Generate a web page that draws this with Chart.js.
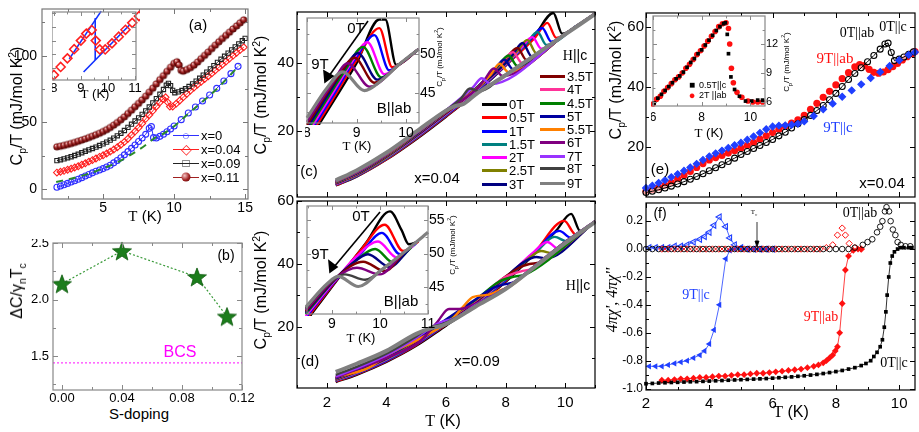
<!DOCTYPE html>
<html>
<head>
<meta charset="utf-8">
<title>Specific heat and ac susceptibility</title>
<script src="https://cdn.jsdelivr.net/npm/chart.js@4.4.1/dist/chart.umd.min.js"></script>
<style>
  body { margin:0; width:919px; height:432px; overflow:hidden; position:relative; background:#fff;
         font-family:"Liberation Sans", Arial, sans-serif; color:#000; }
  canvas { position:absolute; }
  .t { position:absolute; transform:translate(-50%,-50%); white-space:nowrap; line-height:1; z-index:5; }
  .l { position:absolute; transform:translate(0,-50%); white-space:nowrap; line-height:1; z-index:5; }
  .r { transform:translate(-50%,-50%) rotate(-90deg); }
  .sf { font-family:"Liberation Serif", "Times New Roman", serif; }
  .key { position:absolute; height:3px; z-index:5; }
  sub, sup { font-size:65%; line-height:0; }
  svg { position:absolute; left:0; top:0; z-index:6; }
</style>
</head>
<body>
<!-- (a) -->
<div class="t r" style="left:17px;top:106px;font-size:16px">C<sub>p</sub>/T (mJ/mol K<sup>2</sup>)</div>
<div class="t" style="left:145px;top:216px;font-size:15px"><span class="sf">T</span> (K)</div>
<div class="t" style="left:198px;top:24px;font-size:15px">(a)</div>
<div class="t" style="left:95px;top:93px;font-size:13px"><span class="sf">T</span> (K)</div>
<div class="key" style="left:173px;top:135px;width:26px;height:1px;background:#3030ff"></div>
<div class="t" style="left:186px;top:135px;font-size:13px;color:#3030ff">○</div>
<div class="l" style="left:201px;top:135px;font-size:13px">x=0</div>
<div class="key" style="left:173px;top:149px;width:26px;height:1px;background:#ff2020"></div>
<div class="t" style="left:186px;top:149px;font-size:14px;color:#ff2020">◇</div>
<div class="l" style="left:201px;top:149px;font-size:13px">x=0.04</div>
<div class="key" style="left:173px;top:163px;width:26px;height:1px;background:#222"></div>
<div class="t" style="left:186px;top:163px;font-size:12px;color:#222">□</div>
<div class="l" style="left:201px;top:163px;font-size:13px">x=0.09</div>
<div class="key" style="left:173px;top:177px;width:26px;height:1px;background:#a02020"></div>
<div class="t" style="left:186px;top:177px;width:9px;height:9px;border-radius:50%;background:radial-gradient(circle at 35% 35%, #f4c4c4, #a02020 55%, #4a0000)"></div>
<div class="l" style="left:201px;top:177px;font-size:13px">x=0.11</div>

<!-- (b) -->
<div class="t r" style="left:17px;top:291px;font-size:16px">ΔC/γ<sub>n</sub>T<sub>c</sub></div>
<div class="t" style="left:139px;top:413px;font-size:15px">S-doping</div>
<div class="t" style="left:226px;top:255px;font-size:14px">(b)</div>
<div class="t" style="left:180px;top:352px;font-size:16px;color:#ff00ff">BCS</div>

<!-- (c) -->
<div class="t r" style="left:261px;top:95px;font-size:16px">C<sub>p</sub>/T (mJ/mol K<sup>2</sup>)</div>
<div class="t" style="left:309px;top:170px;font-size:15px">(c)</div>
<div class="t" style="left:437px;top:177px;font-size:15px">x=0.04</div>
<div class="t" style="left:575px;top:55px;font-size:14px"><span class="sf">H</span>||c</div>
<div class="t" style="left:356px;top:27px;font-size:15px">0T</div>
<div class="t" style="left:320px;top:63px;font-size:15px">9T</div>
<div class="t" style="left:394px;top:107px;font-size:15px">B||ab</div>
<div class="t" style="left:357px;top:145px;font-size:13px"><span class="sf">T</span> (K)</div>
<div class="t r" style="left:440px;top:57px;font-size:8px">C<sub>p</sub>/T (mJ/mol K<sup>2</sup>)</div>

<!-- (d) -->
<div class="t r" style="left:261px;top:290px;font-size:16px">C<sub>p</sub>/T (mJ/mol K<sup>2</sup>)</div>
<div class="t" style="left:310px;top:360px;font-size:15px">(d)</div>
<div class="t" style="left:477px;top:360px;font-size:15px">x=0.09</div>
<div class="t" style="left:578px;top:285px;font-size:14px"><span class="sf">H</span>||c</div>
<div class="t" style="left:361px;top:215px;font-size:15px">0T</div>
<div class="t" style="left:320px;top:253px;font-size:15px">9T</div>
<div class="t" style="left:401px;top:300px;font-size:15px">B||ab</div>
<div class="t" style="left:361px;top:337px;font-size:13px"><span class="sf">T</span> (K)</div>
<div class="t r" style="left:453px;top:245px;font-size:8px">C<sub>p</sub>/T (mJ/mol K<sup>2</sup>)</div>
<div class="t" style="left:443px;top:421px;font-size:16px"><span class="sf">T</span> (K)</div>

<!-- (e) -->
<div class="t r" style="left:616px;top:80px;font-size:16px">C<sub>p</sub>/T (mJ/mol K<sup>2</sup>)</div>
<div class="t" style="left:660px;top:168px;font-size:15px">(e)</div>
<div class="t" style="left:882px;top:182px;font-size:15px">x=0.04</div>
<div class="t sf" style="left:857px;top:33px;font-size:14px">0T||ab</div>
<div class="t sf" style="left:893px;top:27px;font-size:14px">0T||c</div>
<div class="t sf" style="left:835px;top:58px;font-size:15px;color:#ff1010">9T||ab</div>
<div class="t sf" style="left:838px;top:127px;font-size:15px;color:#2040ff">9T||c</div>
<div class="t" style="left:692px;top:85px;font-size:10px">■</div>
<div class="l" style="left:699px;top:85px;font-size:9px">0.5T||c</div>
<div class="t" style="left:692px;top:95px;font-size:11px;color:#ff1010">●</div>
<div class="l" style="left:699px;top:95px;font-size:9px">2T ||ab</div>
<div class="t" style="left:709px;top:132px;font-size:13px"><span class="sf">T</span> (K)</div>
<div class="t r" style="left:787px;top:62px;font-size:8px">C<sub>p</sub>/T (mJ/mol K<sup>2</sup>)</div>

<!-- (f) -->
<div class="t r sf" style="left:612px;top:300px;font-size:16px;font-style:italic">4πχ', 4πχ''</div>
<div class="t" style="left:791px;top:412px;font-size:16px"><span class="sf">T</span> (K)</div>
<div class="t" style="left:660px;top:213px;font-size:14px">(f)</div>
<div class="t sf" style="left:860px;top:213px;font-size:14px">0T||ab</div>
<div class="t sf" style="left:894px;top:363px;font-size:14px">0T||c</div>
<div class="t sf" style="left:821px;top:317px;font-size:14px;color:#ff1010">9T||ab</div>
<div class="t sf" style="left:696px;top:295px;font-size:14px;color:#2040ff">9T||c</div>
<div class="t sf" style="left:754px;top:212px;font-size:7px">T<sub>c</sub></div>

<svg width="919" height="432">
  <g stroke="#000" stroke-width="1.6" fill="#000">
    <line x1="368" y1="21" x2="329" y2="76"/>
    <polygon points="325,82 324,71 333,76"/>
    <line x1="380" y1="212" x2="334" y2="267"/>
    <polygon points="330,272 329,261 337,267"/>
  </g>
  <g stroke="#000" stroke-width="0.8" fill="#000">
    <line x1="757" y1="222" x2="757" y2="243"/>
    <polygon points="757,247 755,241 759,241"/>
  </g>
</svg>

<script>
// ---------- tick values ----------
const aTicksX = [5, 10, 15];
const aTicksY = [0, 50, 100];
const aInsetTicksX = [8, 9, 10, 11];
const bTicksX = [0, 0.04, 0.08, 0.12];
const bTicksY = [1.5, 2.0, 2.5];
const cdTicksX = [2, 4, 6, 8, 10];
const cTicksY = [20, 40];
const dTicksY = [20, 40, 60];
const cInsetTicksX = [8, 9, 10];
const cInsetTicksY = [45, 50];
const dInsetTicksX = [9, 10, 11];
const dInsetTicksY = [45, 50, 55];
const efTicksX = [2, 4, 6, 8, 10];
const eTicksY = [20, 40, 60];
const eInsetTicksX = [6, 8, 10];
const eInsetTicksY = [6, 9, 12];
const fTicksY = [0.2, 0, -0.2, -0.4, -0.6, -0.8, -1.0];

// ---------- (a) Cp/T for x = 0, 0.04, 0.09, 0.11 (stacked) ----------
const aX0 = [[1.75,1.3],[2.0,2.2],[2.25,3.2],[2.5,4.2],[2.75,5.2],[3.0,6.2],[3.25,7.3],[3.5,8.5],[3.75,9.7],[4.0,10.9],[4.25,12.1],[4.5,13.3],[4.75,14.3],[5.0,15.3],[5.25,16.5],[5.5,17.8],[5.75,19.6],[6.0,21.4],[6.25,23.4],[6.5,25.6],[6.75,28.0],[7.0,30.5],[7.25,33.0],[7.5,35.6],[7.75,38.3],[8.0,41.0],[8.25,45.5],[8.4,46.8],[8.55,38.5],[8.75,38.3],[9.0,39.5],[9.25,41.1],[9.5,42.9],[9.75,45.0],[10.0,47.3],[10.5,52.0],[11.0,57.0],[11.5,61.5],[12.0,66.0],[12.5,70.5],[13.0,75.5],[13.5,81.0],[14.0,86.5],[14.5,92.0]];
const aX004 = [[1.75,12.3],[2.0,12.9],[2.25,13.6],[2.5,14.4],[2.75,15.2],[3.0,16.1],[3.25,17.1],[3.5,18.2],[3.75,19.3],[4.0,20.5],[4.25,21.7],[4.5,22.9],[4.75,24.1],[5.0,25.3],[5.25,26.6],[5.5,28.0],[5.75,29.6],[6.0,31.3],[6.25,33.2],[6.5,35.3],[6.75,37.7],[7.0,40.5],[7.25,43.2],[7.5,46.0],[7.75,49.2],[8.0,52.6],[8.25,55.5],[8.5,58.6],[8.75,61.9],[9.0,65.0],[9.2,67.5],[9.4,68.8],[9.55,65.0],[9.7,61.8],[9.9,61.8],[10.15,64.0],[10.4,66.4],[10.65,68.9],[10.9,71.4],[11.15,73.8],[11.4,76.1],[11.65,78.3],[11.9,80.4],[12.15,82.5],[12.4,84.6],[12.65,86.7],[12.9,89.0],[13.15,91.2],[13.4,93.4],[13.65,95.6],[13.9,97.8],[14.15,100.0],[14.4,102.2],[14.65,104.3],[14.9,106.3]];
const aX009 = [[1.75,21.3],[2.0,21.9],[2.25,22.6],[2.5,23.4],[2.75,24.2],[3.0,25.1],[3.25,26.1],[3.5,27.2],[3.75,28.3],[4.0,29.4],[4.25,30.4],[4.5,31.4],[4.75,32.6],[5.0,33.8],[5.25,35.2],[5.5,36.6],[5.75,38.2],[6.0,39.9],[6.25,41.8],[6.5,43.9],[6.75,46.2],[7.0,48.6],[7.25,51.0],[7.5,53.4],[7.75,56.0],[8.0,58.6],[8.25,61.5],[8.5,64.6],[8.75,67.8],[9.0,71.1],[9.25,74.6],[9.45,77.8],[9.6,79.2],[9.75,77.5],[9.9,74.0],[10.05,72.2],[10.3,72.8],[10.55,73.9],[10.8,75.2],[11.05,76.9],[11.3,78.8],[11.55,80.9],[11.8,83.1],[12.05,85.4],[12.3,87.7],[12.55,90.1],[12.8,92.5],[13.05,95.0],[13.3,97.3],[13.55,99.6],[13.8,101.9],[14.05,104.3],[14.3,106.6],[14.55,108.9],[14.8,111.2],[15.0,113.0]];
const aX011 = [[1.75,31.6],[2.0,32.1],[2.25,32.7],[2.5,33.4],[2.75,34.1],[3.0,34.9],[3.25,35.8],[3.5,36.7],[3.75,37.6],[4.0,38.6],[4.25,39.6],[4.5,40.7],[4.75,41.8],[5.0,43.1],[5.25,44.5],[5.5,46.1],[5.75,47.9],[6.0,49.8],[6.25,51.9],[6.5,54.1],[6.75,56.6],[7.0,59.1],[7.25,61.7],[7.5,64.2],[7.75,66.8],[8.0,69.6],[8.25,72.6],[8.5,75.6],[8.75,78.8],[9.0,82.0],[9.25,85.0],[9.5,88.2],[9.75,91.3],[10.0,94.2],[10.2,95.4],[10.35,93.0],[10.5,89.0],[10.65,88.4],[10.9,89.6],[11.15,91.0],[11.4,92.9],[11.65,95.2],[11.9,97.7],[12.15,100.2],[12.4,102.7],[12.65,105.3],[12.9,107.9],[13.15,110.4],[13.4,112.8],[13.65,115.2],[13.9,117.6],[14.15,120.0],[14.4,122.3],[14.65,124.6],[14.9,126.8]];
const aNormalFit = [[1.7,5.2],[3,8.5],[4,11.5],[5,15.5],[6,20.0],[7,26.0],[8,33.0],[8.6,38.0],[9,40.0],[10,47.0],[11,56.5],[12,65.5],[13,75.0],[14,86.0],[14.6,93.0]];
const aInsetLineLow = [[8.57,58.4],[9.75,75.6]];
const aInsetStep = [[9.53,58.0],[9.53,73.1]];
const aInsetLineHigh = [[9.1,53.7],[10.8,70.6]];

// ---------- (b) jump ratio ----------
const bDoping = [0, 0.04, 0.09, 0.11];
const bRatio = [2.14, 2.43, 2.2, 1.85];
const bBCS = 1.44;

// ---------- (c) x=0.04, H||c ----------
const cFields = ['0T','0.5T','1T','1.5T','2T','2.5T','3T','3.5T','4T','4.5T','5T','5.5T','6T','7T','8T','9T'];
const cCurves = [
  [[2.3,4.0],[3,6.6],[4,11.6],[5,17.6],[6,24.2],[7,31.2],[8,39.2],[9,48.4],[9.6,54.7],[9.9,48.6],[10.4,51.0],[11,54.5]],
  [[2.3,4.1],[3,6.7],[4,11.7],[5,17.8],[6,24.4],[7,31.4],[8,39.3],[9,47.6],[9.4,51.8],[9.7,47.4],[10.4,51.0],[11,54.5]],
  [[2.3,4.2],[3,6.8],[4,11.9],[5,18.0],[6,24.6],[7,31.6],[8,39.4],[8.8,46.5],[9.23,50.3],[9.53,46.3],[10.4,51.0],[11,54.5]],
  [[2.3,4.3],[3,6.9],[4,12.0],[5,18.1],[6,24.8],[7,31.8],[8,39.5],[8.7,45.7],[9.07,49.1],[9.37,45.3],[10.4,51.0],[11,54.5]],
  [[2.3,4.4],[3,7.0],[4,12.2],[5,18.3],[6,25.0],[7,32.0],[8,39.6],[8.5,44.2],[8.9,47.6],[9.2,44.2],[10,48.5],[11,54.5]],
  [[2.3,4.5],[3,7.1],[4,12.3],[5,18.5],[6,25.2],[7,32.2],[8,39.8],[8.4,43.6],[8.73,46.8],[9.03,42.9],[10,48.5],[11,54.5]],
  [[2.3,4.6],[3,7.2],[4,12.5],[5,18.6],[6,25.3],[7,32.3],[8,40.0],[8.25,42.6],[8.57,45.9],[8.87,42.0],[10,48.5],[11,54.5]],
  [[2.3,4.7],[3,7.3],[4,12.6],[5,18.8],[6,25.4],[7,32.4],[7.9,40.0],[8.4,44.4],[8.7,40.9],[10,48.5],[11,54.5]],
  [[2.3,4.8],[3,7.4],[4,12.7],[5,18.9],[6,25.6],[7,32.5],[7.8,39.3],[8.25,43.2],[8.55,40.0],[10,48.5],[11,54.5]],
  [[2.3,4.9],[3,7.5],[4,12.8],[5,19.0],[6,25.7],[7,32.5],[7.7,38.6],[8.1,42.2],[8.4,39.1],[10,48.5],[11,54.5]],
  [[2.3,5.0],[3,7.6],[4,12.9],[5,19.1],[6,25.8],[7,32.4],[7.6,37.7],[7.95,41.0],[8.25,38.2],[10,48.5],[11,54.5]],
  [[2.3,5.1],[3,7.8],[4,13.0],[5,19.3],[6,25.9],[7,32.3],[7.5,36.6],[7.8,39.8],[8.1,37.3],[10,48.5],[11,54.5]],
  [[2.3,5.2],[3,7.9],[4,13.1],[5,19.4],[6,26.0],[7,32.2],[7.3,35.2],[7.6,38.4],[7.9,36.2],[10,48.5],[11,54.5]],
  [[2.3,5.3],[3,8.1],[4,13.3],[5,19.5],[6,26.1],[6.9,32.8],[7.2,35.5],[7.5,33.8],[10,48.5],[11,54.5]],
  [[2.3,5.4],[3,8.2],[4,13.4],[5,19.7],[6,26.1],[6.5,29.5],[6.8,32.5],[7.1,31.7],[8,36.6],[10,48.5],[11,54.5]],
  [[2.3,5.5],[3,8.4],[4,13.6],[5,19.8],[6,26.0],[6.3,27.3],[6.6,28.0],[7,30.8],[8,36.4],[9,42.4],[10,48.4],[11,54.4]]
];
// inset (c): x=0.04, B||ab, curves 0T .. 9T
const cInsetCurves = [
  [[8.0,38.5],[8.5,43.6],[9.0,48.8],[9.46,54.4],[9.58,54.4],[9.8,48.6],[10.25,50.6]],
  [[8.0,38.9],[8.5,44.0],[9.0,49.2],[9.46,53.3],[9.72,48.3],[9.85,48.6],[10.25,50.6]],
  [[8.0,39.3],[8.5,44.4],[9.0,49.6],[9.36,52.4],[9.66,47.9],[9.85,48.6],[10.25,50.6]],
  [[8.0,39.7],[8.5,44.8],[8.9,48.9],[9.22,51.5],[9.56,47.4],[9.85,48.6],[10.25,50.6]],
  [[8.0,40.1],[8.5,45.2],[8.8,48.2],[9.13,50.9],[9.5,47.0],[9.85,48.6],[10.25,50.6]],
  [[8.0,40.5],[8.5,45.6],[8.75,48.1],[9.03,50.1],[9.42,46.7],[9.85,48.6],[10.25,50.6]],
  [[8.0,40.9],[8.6,46.8],[8.96,49.5],[9.36,46.3],[9.85,48.6],[10.25,50.6]],
  [[8.0,41.3],[8.5,46.1],[8.82,48.8],[9.26,45.8],[9.85,48.6],[10.25,50.6]],
  [[8.0,41.8],[8.4,45.6],[8.72,47.7],[9.16,45.3],[9.5,46.6],[9.85,48.6],[10.25,50.6]]
];

// ---------- (d) x=0.09, H||c ----------
const dCurves = [
  [[2.3,2.5],[3,4.8],[4,8.9],[5,14.0],[6,20.4],[7,26.8],[8,34.3],[9,43.6],[9.7,50.6],[10.2,55.9],[10.5,50.5],[11,53.5]],
  [[2.3,2.7],[3,5.0],[4,9.1],[5,14.3],[6,20.7],[7,27.0],[8,34.6],[9,44.0],[9.97,53.7],[10.35,49.4],[11,53.5]],
  [[2.3,2.9],[3,5.2],[4,9.3],[5,14.5],[6,20.9],[7,27.2],[8,34.9],[9,43.9],[9.8,50.5],[10.2,48.3],[11,53.5]],
  [[2.3,3.0],[3,5.3],[4,9.5],[5,14.7],[6,21.1],[7,27.4],[8,35.2],[9,43.5],[9.65,48.6],[10.05,47.2],[11,53.5]],
  [[2.3,3.1],[3,5.5],[4,9.7],[5,14.9],[6,21.3],[7,27.6],[8,35.5],[8.9,43.4],[9.4,47.0],[9.75,45.0],[11,53.5]],
  [[2.3,3.2],[3,5.6],[4,9.8],[5,15.0],[6,21.4],[7,27.8],[8,35.7],[8.8,42.0],[9.2,44.1],[9.55,43.4],[11,53.5]],
  [[2.3,3.3],[3,5.8],[4,10.0],[5,15.2],[6,21.6],[7,28.0],[8,35.8],[8.6,40.5],[9.03,42.2],[9.35,41.8],[11,53.5]],
  [[2.3,3.4],[3,5.9],[4,10.2],[5,15.4],[6,21.8],[7,28.2],[8,36.0],[8.45,38.8],[8.8,40.0],[9.15,40.5],[11,53.5]],
  [[2.3,3.5],[3,6.0],[4,10.3],[5,15.6],[6,22.0],[7,28.4],[8,35.9],[8.57,37.8],[8.95,38.6],[11,53.5]],
  [[2.3,3.6],[3,6.1],[4,10.4],[5,15.8],[6,22.2],[7,28.6],[7.8,34.5],[8.3,36.0],[8.65,36.6],[11,53.5]],
  [[2.3,3.7],[3,6.3],[4,10.5],[5,16.0],[6,22.4],[7,28.8],[7.6,32.5],[7.95,33.5],[8.3,34.3],[9,39.5],[10,47.0],[11,53.5]],
  [[2.3,4.1],[3.4,7.0],[4,10.8],[5.1,16.2],[6.2,22.5],[6.6,26.7],[6.9,29.5],[7.4,30.2],[7.7,31.2],[8.2,33.2],[9,39.5],[10,47.0],[11,53.5]],
  [[2.3,3.9],[3,6.5],[4,10.2],[5.1,15.2],[5.7,21.5],[6.1,25.7],[6.45,25.7],[6.9,27.0],[8,32.3],[9,39.5],[10,47.0],[11,53.5]],
  [[2.3,4.3],[3,6.8],[4,11.0],[5,16.5],[5.5,19.8],[5.85,21.6],[6.3,22.8],[7,27.0],[8,32.3],[9,39.5],[10,47.0],[11,53.5]],
  [[2.3,4.8],[3,7.3],[4,11.5],[5,17.0],[5.45,19.8],[5.9,21.0],[6.5,23.8],[7,26.8],[8,32.2],[9,39.4],[10,46.9],[11,53.4]],
  [[2.3,5.7],[3,8.3],[4,12.4],[5,17.8],[5.5,19.6],[5.9,20.5],[7,26.5],[8,32.0],[9,39.2],[10,46.6],[11,53.3]]
];
// inset (d): x=0.09, B||ab
const dInsetCurves = [
  [[8.45,39.8],[9.1,46.0],[9.7,51.5],[10.21,56.3],[10.45,53.5],[10.6,51.4],[10.8,51.8]],
  [[8.45,40.1],[9.1,46.1],[9.6,50.5],[10.1,54.3],[10.48,50.4],[10.8,51.8]],
  [[8.45,40.4],[9.1,46.2],[9.6,50.0],[10.04,53.1],[10.42,49.9],[10.75,51.5]],
  [[8.45,40.7],[9.1,46.3],[9.5,49.5],[9.96,51.8],[10.35,49.4],[10.7,51.2]],
  [[8.45,41.0],[9.1,46.4],[9.5,49.0],[9.9,50.7],[10.27,48.7],[10.65,50.9]],
  [[8.45,41.2],[9.1,46.5],[9.4,48.4],[9.75,49.9],[10.2,48.0],[10.6,50.6]],
  [[8.45,41.4],[9.1,46.5],[9.65,48.8],[10.1,47.4],[10.5,50.2]],
  [[8.45,41.6],[9.1,46.5],[9.52,47.9],[10.0,46.9],[10.45,49.9]],
  [[8.45,41.8],[9.0,46.0],[9.27,46.9],[9.69,46.1],[10.2,48.5]],
  [[8.45,42.0],[8.9,45.5],[9.13,46.6],[9.55,45.1],[10.0,47.4],[10.5,50.2],[11.0,53.2]]
];

// ---------- (e) x=0.04, field direction ----------
const e0T = [[2.0,5.0],[2.2,5.4],[2.4,5.9],[2.6,6.5],[2.8,7.1],[3.0,7.8],[3.2,8.6],[3.4,9.4],[3.6,10.3],[3.8,11.2],[4.0,12.2],[4.2,13.2],[4.4,14.2],[4.6,15.3],[4.8,16.4],[5.0,17.6],[5.2,18.6],[5.4,19.6],[5.6,20.6],[5.8,21.6],[6.0,22.6],[6.2,23.8],[6.4,25.0],[6.6,26.4],[6.8,27.8],[7.0,29.2],[7.2,30.6],[7.4,32.2],[7.6,33.9],[7.8,35.8],[8.0,37.9],[8.2,40.2],[8.4,42.5],[8.6,44.5],[8.8,46.4],[9.0,48.4],[9.2,50.5],[9.4,52.6],[9.55,54.3],[9.65,54.6],[9.75,51.5],[9.85,48.8],[10.0,49.3],[10.15,50.0],[10.3,50.9],[10.45,51.7]];
const e9Tab = [[2.0,5.4],[2.2,5.9],[2.4,6.6],[2.6,7.4],[2.8,8.3],[3.0,9.5],[3.2,10.7],[3.4,12.0],[3.6,13.3],[3.8,14.6],[4.0,15.8],[4.2,16.6],[4.4,17.3],[4.6,18.1],[4.8,18.9],[5.0,19.7],[5.2,20.6],[5.4,21.6],[5.6,22.7],[5.8,23.8],[6.0,24.9],[6.2,26.0],[6.4,27.0],[6.6,28.0],[6.8,29.1],[7.0,30.6],[7.2,32.6],[7.4,34.6],[7.6,36.6],[7.8,38.6],[8.0,40.7],[8.2,42.8],[8.4,44.8],[8.6,46.7],[8.75,47.5],[8.9,47.1],[9.05,45.9],[9.2,44.9],[9.35,44.6],[9.5,45.0],[9.65,45.8],[9.8,46.8],[9.95,47.9],[10.1,49.0],[10.25,50.1],[10.4,51.1],[10.5,51.8]];
const e9Tc = [[2.0,6.5],[2.2,7.3],[2.4,8.2],[2.6,9.1],[2.8,10.1],[3.0,11.1],[3.2,12.2],[3.4,13.3],[3.6,14.5],[3.8,15.8],[4.0,17.0],[4.2,18.0],[4.4,18.9],[4.6,19.8],[4.8,20.7],[5.0,21.5],[5.2,22.5],[5.4,23.6],[5.6,24.8],[5.8,26.0],[6.0,26.9],[6.2,27.2],[6.4,27.3],[6.6,27.5],[6.8,27.8],[7.0,28.6],[7.3,30.4],[7.6,32.6],[7.9,34.5],[8.2,36.8],[8.5,38.9],[8.8,40.9],[9.1,43.0],[9.4,45.0],[9.7,47.0],[10.0,48.9],[10.3,50.7],[10.5,51.6]];
// inset (e)
const eInset05Tc = [[6.05,5.9],[6.2,6.4],[6.35,6.8],[6.5,7.2],[6.65,7.6],[6.8,8.0],[6.95,8.4],[7.1,8.7],[7.25,9.1],[7.4,9.6],[7.55,10.1],[7.7,10.5],[7.85,11.0],[8.0,11.4],[8.15,11.9],[8.3,12.4],[8.45,12.9],[8.6,13.4],[8.75,13.8],[8.9,14.1],[8.97,14.2],[9.05,13.0],[9.1,11.0],[9.2,8.6],[9.35,7.3],[9.55,6.6],[9.8,6.1],[10.05,6.1],[10.3,6.2],[10.5,6.2]];
const eInset2Tab = [[6.0,5.8],[6.15,6.3],[6.3,6.6],[6.45,7.1],[6.6,7.5],[6.75,7.9],[6.9,8.3],[7.05,8.6],[7.2,9.0],[7.35,9.5],[7.5,9.9],[7.65,10.4],[7.8,10.9],[7.95,11.3],[8.1,11.8],[8.25,12.3],[8.4,12.8],[8.55,13.3],[8.7,13.8],[8.85,14.1],[9.0,14.2],[9.1,13.6],[9.15,12.0],[9.22,9.5],[9.3,8.0],[9.45,7.0],[9.65,6.5],[9.9,6.1],[10.1,6.0],[10.3,6.0],[10.5,6.0]];

// ---------- (f) ac susceptibility ----------
const fBlueReal = [[2.1,-0.84],[2.3,-0.84],[2.5,-0.84],[2.7,-0.83],[2.9,-0.82],[3.1,-0.81],[3.3,-0.8],[3.5,-0.78],[3.7,-0.76],[3.85,-0.73],[4.0,-0.68],[4.15,-0.58],[4.32,-0.40],[4.52,-0.07],[4.65,-0.01],[4.8,0],[5.0,0],[5.2,0],[5.4,0],[5.6,0],[5.8,0],[6.0,0]];
const fBlueImag = [[2.1,0.01],[2.3,0.01],[2.5,0.01],[2.7,0.01],[2.9,0.02],[3.1,0.02],[3.3,0.03],[3.5,0.05],[3.7,0.07],[3.85,0.09],[4.0,0.12],[4.15,0.17],[4.32,0.23],[4.52,0.16],[4.65,0.08],[4.8,0.03],[5.0,0.01],[5.2,0],[5.4,0],[5.6,0],[5.8,0],[6.0,0]];
const fRedReal = [[2.5,-0.94],[2.7,-0.94],[2.9,-0.935],[3.1,-0.93],[3.3,-0.93],[3.5,-0.925],[3.7,-0.92],[3.9,-0.92],[4.1,-0.915],[4.3,-0.91],[4.5,-0.91],[4.7,-0.905],[4.9,-0.9],[5.1,-0.9],[5.3,-0.895],[5.5,-0.89],[5.7,-0.89],[5.9,-0.885],[6.1,-0.88],[6.3,-0.875],[6.5,-0.87],[6.7,-0.865],[6.9,-0.86],[7.1,-0.85],[7.3,-0.84],[7.45,-0.83],[7.6,-0.815],[7.7,-0.8],[7.8,-0.78],[7.9,-0.76],[7.98,-0.73],[8.05,-0.70],[8.12,-0.60],[8.2,-0.39],[8.3,-0.15],[8.4,-0.05],[8.55,-0.01],[8.7,0],[8.8,0]];
const fRedImag = [[2.5,0],[2.7,0],[2.9,0],[3.1,0],[3.3,0],[3.5,0],[3.7,0],[3.9,0],[4.1,0],[4.3,0],[4.5,0],[4.7,0],[4.9,0],[5.1,0],[5.3,0],[5.5,0],[5.7,0],[5.9,0],[6.1,0],[6.3,0],[6.5,0],[6.7,0],[6.9,0],[7.1,0],[7.3,0],[7.5,0],[7.7,0.01],[7.9,0.03],[8.05,0.1],[8.2,0.15],[8.3,0.1],[8.42,0.04],[8.6,0.01],[8.8,0]];
const fBlackReal = [[2.0,-0.965],[2.2,-0.963],[2.4,-0.96],[2.6,-0.958],[2.8,-0.956],[3.0,-0.955],[3.2,-0.953],[3.4,-0.951],[3.6,-0.95],[3.8,-0.948],[4.0,-0.946],[4.2,-0.944],[4.4,-0.942],[4.6,-0.94],[4.8,-0.938],[5.0,-0.936],[5.2,-0.934],[5.4,-0.932],[5.6,-0.93],[5.8,-0.928],[6.0,-0.925],[6.2,-0.922],[6.4,-0.919],[6.6,-0.916],[6.8,-0.912],[7.0,-0.908],[7.2,-0.903],[7.4,-0.898],[7.6,-0.892],[7.8,-0.885],[8.0,-0.878],[8.2,-0.87],[8.4,-0.86],[8.6,-0.85],[8.8,-0.835],[8.95,-0.82],[9.1,-0.8],[9.2,-0.77],[9.3,-0.74],[9.4,-0.7],[9.47,-0.65],[9.53,-0.56],[9.58,-0.45],[9.62,-0.33],[9.67,-0.2],[9.72,-0.1],[9.78,-0.05],[9.85,-0.02],[9.95,0],[10.05,0.01],[10.15,0.01],[10.3,0.01],[10.4,0.01]];
const fBlackImag = [[2.0,0],[2.2,0],[2.4,0],[2.6,0],[2.8,0],[3.0,0],[3.2,0],[3.4,0],[3.6,0],[3.8,0],[4.0,0],[4.2,0],[4.4,0],[4.6,0],[4.8,0],[5.0,0],[5.2,0],[5.4,0],[5.6,0],[5.8,0],[6.0,0],[6.2,0],[6.4,0],[6.6,0],[6.8,0],[7.0,0],[7.2,0],[7.4,0],[7.6,0],[7.8,0],[8.0,0],[8.2,0],[8.4,0],[8.6,0.01],[8.85,0.03],[9.0,0.05],[9.15,0.07],[9.3,0.12],[9.4,0.16],[9.47,0.2],[9.55,0.27],[9.6,0.3],[9.68,0.27],[9.73,0.2],[9.8,0.14],[9.88,0.1],[9.95,0.05],[10.05,0.03],[10.2,0.02],[10.35,0.02]];

// ---------- styling ----------
const fieldColors = ['#000000','#ff0000','#0000ff','#008080','#ff00ff','#808000','#000080','#800000',
                     '#ff3399','#008000','#0000a0','#ff8000','#800080','#9933ff','#404040','#808080'];
const insetCColors = ['#000000','#ff0000','#0000ff','#ff00ff','#008000','#000080','#800000','#800080','#808080'];
const insetDColors = ['#000000','#ff0000','#0000ff','#ff00ff','#008000','#000080','#800000','#800080','#404040','#808080'];
const FONT = '"Liberation Sans", Arial, sans-serif';

const pts = arr => arr.map(p => ({x: p[0], y: p[1]}));

function ballImage(r) {
  const s = Math.ceil(r * 2 + 2), cv = document.createElement('canvas');
  cv.width = cv.height = s;
  const ctx = cv.getContext('2d');
  const g = ctx.createRadialGradient(s * 0.36, s * 0.34, 0.3, s / 2, s / 2, r);
  g.addColorStop(0, '#f4c4c4'); g.addColorStop(0.5, '#a02020'); g.addColorStop(1, '#4a0000');
  ctx.fillStyle = g; ctx.beginPath(); ctx.arc(s / 2, s / 2, r, 0, Math.PI * 2); ctx.fill();
  return cv;
}
function starImage(R) {
  const s = Math.ceil(R * 2 + 2), cv = document.createElement('canvas');
  cv.width = cv.height = s;
  const ctx = cv.getContext('2d');
  ctx.beginPath();
  for (let i = 0; i < 10; i++) {
    const rr = i % 2 ? R * 0.42 : R, a = -Math.PI / 2 + i * Math.PI / 5;
    ctx.lineTo(s / 2 + rr * Math.cos(a), s / 2 + 1 + rr * Math.sin(a));
  }
  ctx.closePath();
  ctx.fillStyle = '#1c7d1c'; ctx.fill();
  ctx.strokeStyle = '#0f5a0f'; ctx.lineWidth = 0.8; ctx.stroke();
  return cv;
}

// frame with inward ticks on all four sides
function framePlugin(spec) {
  return {
    id: 'frame',
    beforeDraw(chart) {
      if (!spec.fill) return;
      const a = chart.chartArea, ctx = chart.ctx;
      ctx.save(); ctx.fillStyle = spec.fill; ctx.fillRect(a.left, a.top, a.width, a.height); ctx.restore();
    },
    afterDatasetsDraw(chart) {
      const a = chart.chartArea, ctx = chart.ctx, sx = chart.scales.x, sy = chart.scales.y;
      const len = spec.tickLen || 5;
      ctx.save();
      ctx.strokeStyle = spec.frameColor || '#000';
      ctx.lineWidth = spec.frameWidth || 1.2;
      ctx.strokeRect(a.left, a.top, a.width, a.height);
      ctx.lineWidth = 1;
      const mark = (vals, l, horiz) => (vals || []).forEach(v => {
        ctx.beginPath();
        if (horiz) {
          const x = Math.round(sx.getPixelForValue(v)) + 0.5;
          ctx.moveTo(x, a.bottom); ctx.lineTo(x, a.bottom - l);
          ctx.moveTo(x, a.top); ctx.lineTo(x, a.top + l);
        } else {
          const y = Math.round(sy.getPixelForValue(v)) + 0.5;
          ctx.moveTo(a.left, y); ctx.lineTo(a.left + l, y);
          ctx.moveTo(a.right, y); ctx.lineTo(a.right - l, y);
        }
        ctx.stroke();
      });
      mark(spec.x.major, len, true); mark(spec.x.minor, len * 0.6, true);
      mark(spec.y.major, len, false); mark(spec.y.minor, len * 0.6, false);
      ctx.restore();
    }
  };
}

function makeChart(spec) {
  const [l, t, r, b] = spec.box;
  const [ml, mt, mr, mb] = spec.margin;
  const w = r - l + ml + mr, h = b - t + mt + mb;
  const cv = document.createElement('canvas');
  cv.width = w; cv.height = h;
  Object.assign(cv.style, {left: (l - ml) + 'px', top: (t - mt) + 'px', width: w + 'px', height: h + 'px', zIndex: spec.z || 1});
  document.body.appendChild(cv);
  const yRight = !!spec.yRight;
  const axis = (a, isX) => ({
    type: 'linear', min: a.min, max: a.max,
    position: isX ? 'bottom' : (yRight ? 'right' : 'left'),
    grid: {display: false, drawTicks: false}, border: {display: false},
    ticks: {display: !!a.show, color: '#000', padding: a.pad || 2, autoSkip: false, maxRotation: 0,
            font: {family: FONT, size: a.size || 14}, callback: a.fmt || (v => String(v))},
    afterBuildTicks: s => { s.ticks = (a.major || []).map(v => ({value: v})); },
    afterFit: s => {
      if (isX) { s.height = mb; s.paddingLeft = 0; s.paddingRight = 0; }
      else { s.width = yRight ? mr : ml; s.paddingTop = 0; s.paddingBottom = 0; }
    }
  });
  return new Chart(cv, {
    type: 'scatter',
    data: {datasets: spec.datasets},
    options: {
      responsive: false, animation: false, events: [],
      layout: {autoPadding: false, padding: {left: yRight ? ml : 0, right: yRight ? 0 : mr, top: mt, bottom: 0}},
      plugins: {legend: {display: false}, tooltip: {enabled: false}},
      elements: {point: {hitRadius: 0}},
      scales: {x: axis(spec.x, true), y: axis(spec.y, false)}
    },
    plugins: [framePlugin(spec)]
  });
}

const markers = (data, style, r, color, fill, extra) => Object.assign({
  data: pts(data), showLine: false, pointStyle: style, pointRadius: r,
  borderColor: color, pointBorderColor: color, pointBackgroundColor: fill, pointBorderWidth: 1.1, clip: 4
}, extra || {});
const curve = (data, color, width, extra) => Object.assign({
  data: pts(data), showLine: true, pointRadius: 0, borderColor: color, borderWidth: width,
  cubicInterpolationMode: 'monotone', clip: 2
}, extra || {});

// ---------- (a) ----------
makeChart({
  box: [42, 9, 248, 199], margin: [40, 4, 14, 16], frameColor: '#777',
  x: {min: 0.7, max: 15.2, major: aTicksX, minor: [2.5, 7.5, 12.5], show: true, pad: 1, size: 14},
  y: {min: -7.5, max: 135, major: aTicksY, minor: [25, 75, 125], show: true, pad: 5, size: 14},
  datasets: [
    curve(aNormalFit, '#2a8a2a', 2, {borderDash: [7, 6], cubicInterpolationMode: 'monotone'}),
    markers(aX011, ballImage(3.6), 3.6, '#a02020', '#a02020', {showLine: true, borderWidth: 1}),
    markers(aX009, 'rect', 3, '#222', 'rgba(0,0,0,0)', {showLine: true, borderWidth: 1}),
    markers(aX004, 'rectRot', 3.4, '#ff2020', 'rgba(0,0,0,0)', {showLine: true, borderWidth: 1}),
    markers(aX0, 'circle', 3, '#3030ff', 'rgba(0,0,0,0)', {showLine: true, borderWidth: 1})
  ]
});
makeChart({
  box: [52, 12, 136, 80], margin: [0, 2, 8, 14], frameColor: '#888', fill: '#fff', z: 2, tickLen: 4,
  x: {min: 7.93, max: 11.04, major: aInsetTicksX, minor: [8.5, 9.5, 10.5], show: true, pad: 1, size: 13},
  y: {min: 50.8, max: 75.3, major: [55, 60, 65, 70, 75], show: false},
  datasets: [
    markers(aX004, 'rectRot', 4.5, '#ff2020', 'rgba(0,0,0,0)', {pointBorderWidth: 1.6}),
    curve(aInsetLineLow, '#1030ff', 1.6, {cubicInterpolationMode: 'default', tension: 0}),
    curve(aInsetStep, '#1030ff', 1.6, {cubicInterpolationMode: 'default', tension: 0}),
    curve(aInsetLineHigh, '#1030ff', 1.6, {cubicInterpolationMode: 'default', tension: 0})
  ]
});

// ---------- (b) ----------
makeChart({
  box: [53, 243, 242, 390], margin: [40, 4, 18, 14], frameColor: '#888',
  x: {min: -0.006, max: 0.12, major: bTicksX, minor: [0.02, 0.06, 0.1], show: true, pad: 1, size: 13, fmt: v => v.toFixed(2)},
  y: {min: 1.2, max: 2.5, major: bTicksY, minor: [1.25, 1.75, 2.25], show: true, pad: 4, size: 13, fmt: v => v.toFixed(1)},
  datasets: [
    curve([[-0.006, bBCS], [0.12, bBCS]], '#ff44ff', 1.3, {borderDash: [2, 2], cubicInterpolationMode: 'default'}),
    Object.assign(markers(bDoping.map((d, i) => [d, bRatio[i]]), starImage(10), 10, '#3a9a3a', '#1c7d1c'),
      {showLine: true, borderWidth: 1.2, borderDash: [2, 2]})
  ]
});

// ---------- (c) ----------
makeChart({
  box: [297, 12, 595, 197], margin: [34, 4, 6, 2],
  x: {min: 1, max: 11, major: cdTicksX, minor: [1, 3, 5, 7, 9, 11], show: false},
  y: {min: 0.6, max: 55, major: cTicksY, minor: [10, 30, 50], show: true, pad: 3, size: 15},
  datasets: cCurves.map((c, i) => curve(c, fieldColors[i], i === 15 ? 4 : 2.4)).reverse()
});
makeChart({
  box: [307, 18, 419, 123], margin: [2, 2, 22, 14], yRight: true, frameColor: '#888', fill: '#fff', z: 2, tickLen: 4,
  x: {min: 8, max: 10.26, major: cInsetTicksX, minor: [8.5, 9.5], show: true, pad: 0, size: 14},
  y: {min: 41.15, max: 54.6, major: cInsetTicksY, minor: [42.5, 47.5, 52.5], show: true, pad: 1, size: 14},
  datasets: cInsetCurves.map((c, i) => curve(c, insetCColors[i], i === 8 ? 3.2 : 2.4)).reverse()
});

// ---------- (d) ----------
makeChart({
  box: [297, 201, 595, 388], margin: [34, 9, 10, 22],
  x: {min: 1, max: 11, major: cdTicksX, minor: [1, 3, 5, 7, 9, 11], show: true, pad: 6, size: 15},
  y: {min: 0.6, max: 60, major: dTicksY, minor: [10, 30, 50], show: true, pad: 3, size: 15},
  datasets: dCurves.map((c, i) => curve(c, fieldColors[i], i === 15 ? 4 : 2.4)).reverse()
});
makeChart({
  box: [307, 206, 428, 314], margin: [2, 2, 22, 14], yRight: true, frameColor: '#888', fill: '#fff', z: 2, tickLen: 4,
  x: {min: 8.48, max: 11, major: dInsetTicksX, minor: [8.5, 9.5, 10.5], show: true, pad: 0, size: 14},
  y: {min: 41.0, max: 57.1, major: dInsetTicksY, minor: [42.5, 47.5, 52.5], show: true, pad: 1, size: 14},
  datasets: dInsetCurves.map((c, i) => curve(c, insetDColors[i], i === 9 ? 3.2 : 2.4)).reverse()
});

// ---------- (e) ----------
makeChart({
  box: [646, 13, 915, 197], margin: [34, 4, 4, 2],
  x: {min: 2, max: 10.5, major: efTicksX, minor: [3, 5, 7, 9], show: false},
  y: {min: 3.5, max: 64.6, major: eTicksY, minor: [10, 30, 50], show: true, pad: 2, size: 15},
  datasets: [
    markers(e9Tc, 'rectRot', 3.4, '#1f3fff', '#1f3fff'),
    curve(e0T, '#000', 1, {cubicInterpolationMode: 'default', tension: 0}),
    markers(e0T, 'circle', 3, '#000', 'rgba(255,255,255,0.6)'),
    markers(e9Tab, 'circle', 3.6, '#ff1010', '#ff1010', {pointBorderWidth: 0})
  ]
});
makeChart({
  box: [653, 16, 765, 106], margin: [2, 2, 18, 16], yRight: true, frameColor: '#888', fill: '#fff', z: 2, tickLen: 4,
  x: {min: 6, max: 10.6, major: eInsetTicksX, minor: [7, 9], show: true, pad: 4, size: 12},
  y: {min: 5.59, max: 14.9, major: eInsetTicksY, minor: [7.5, 10.5, 13.5], show: true, pad: 1, size: 11},
  datasets: [
    markers(eInset05Tc, 'rect', 2.6, '#000', '#000', {pointBorderWidth: 0}),
    markers(eInset2Tab, 'circle', 2.8, '#ff1010', '#ff1010', {pointBorderWidth: 0})
  ]
});

// ---------- (f) ----------
makeChart({
  box: [646, 203, 915, 390], margin: [38, 4, 4, 22],
  x: {min: 2, max: 10.5, major: efTicksX, minor: [3, 5, 7, 9], show: true, pad: 5, size: 15},
  y: {min: -1.01, max: 0.33, major: fTicksY, minor: [0.1, -0.1, -0.3, -0.5, -0.7, -0.9], show: true, pad: 3, size: 12,
      fmt: v => v.toFixed(1)},
  datasets: [
    markers(fBlackImag, 'circle', 2.8, '#000', 'rgba(0,0,0,0)', {pointBorderWidth: 0.9}),
    markers(fBlackReal, 'rect', 2.6, '#000', '#000', {showLine: true, borderWidth: 0.8, pointBorderWidth: 0}),
    markers(fRedImag, 'rectRot', 3.2, '#ff1010', 'rgba(0,0,0,0)', {pointBorderWidth: 1}),
    markers(fRedReal, 'rectRot', 3.4, '#ff1010', '#ff1010', {showLine: true, borderWidth: 0.8, pointBorderWidth: 0}),
    markers(fBlueImag, 'triangle', 3.4, '#2040ff', 'rgba(0,0,0,0)', {pointRotation: -90, showLine: true, borderWidth: 0.8}),
    markers(fBlueReal, 'triangle', 3.6, '#2040ff', '#2040ff', {pointRotation: -90, showLine: true, borderWidth: 0.8, pointBorderWidth: 0})
  ]
});
</script>

<!-- legend of (c) -->
<div class="key" style="left:482px;top:103px;width:25px;background:#000000"></div><div class="l" style="left:509px;top:104px;font-size:13px">0T</div>
<div class="key" style="left:482px;top:116px;width:25px;background:#ff0000"></div><div class="l" style="left:509px;top:117px;font-size:13px">0.5T</div>
<div class="key" style="left:482px;top:130px;width:25px;background:#0000ff"></div><div class="l" style="left:509px;top:131px;font-size:13px">1T</div>
<div class="key" style="left:482px;top:143px;width:25px;background:#008080"></div><div class="l" style="left:509px;top:144px;font-size:13px">1.5T</div>
<div class="key" style="left:482px;top:156px;width:25px;background:#ff00ff"></div><div class="l" style="left:509px;top:157px;font-size:13px">2T</div>
<div class="key" style="left:482px;top:169px;width:25px;background:#808000"></div><div class="l" style="left:509px;top:170px;font-size:13px">2.5T</div>
<div class="key" style="left:482px;top:183px;width:25px;background:#000080"></div><div class="l" style="left:509px;top:184px;font-size:13px">3T</div>
<div class="key" style="left:540px;top:75px;width:25px;background:#800000"></div><div class="l" style="left:567px;top:76px;font-size:13px">3.5T</div>
<div class="key" style="left:540px;top:88px;width:25px;background:#ff3399"></div><div class="l" style="left:567px;top:89px;font-size:13px">4T</div>
<div class="key" style="left:540px;top:102px;width:25px;background:#008000"></div><div class="l" style="left:567px;top:103px;font-size:13px">4.5T</div>
<div class="key" style="left:540px;top:115px;width:25px;background:#0000a0"></div><div class="l" style="left:567px;top:116px;font-size:13px">5T</div>
<div class="key" style="left:540px;top:128px;width:25px;background:#ff8000"></div><div class="l" style="left:567px;top:129px;font-size:13px">5.5T</div>
<div class="key" style="left:540px;top:141px;width:25px;background:#800080"></div><div class="l" style="left:567px;top:142px;font-size:13px">6T</div>
<div class="key" style="left:540px;top:155px;width:25px;background:#9933ff"></div><div class="l" style="left:567px;top:156px;font-size:13px">7T</div>
<div class="key" style="left:540px;top:167px;width:25px;background:#404040"></div><div class="l" style="left:567px;top:168px;font-size:13px">8T</div>
<div class="key" style="left:540px;top:182px;width:25px;background:#808080"></div><div class="l" style="left:567px;top:183px;font-size:13px">9T</div>
</body>
</html>
